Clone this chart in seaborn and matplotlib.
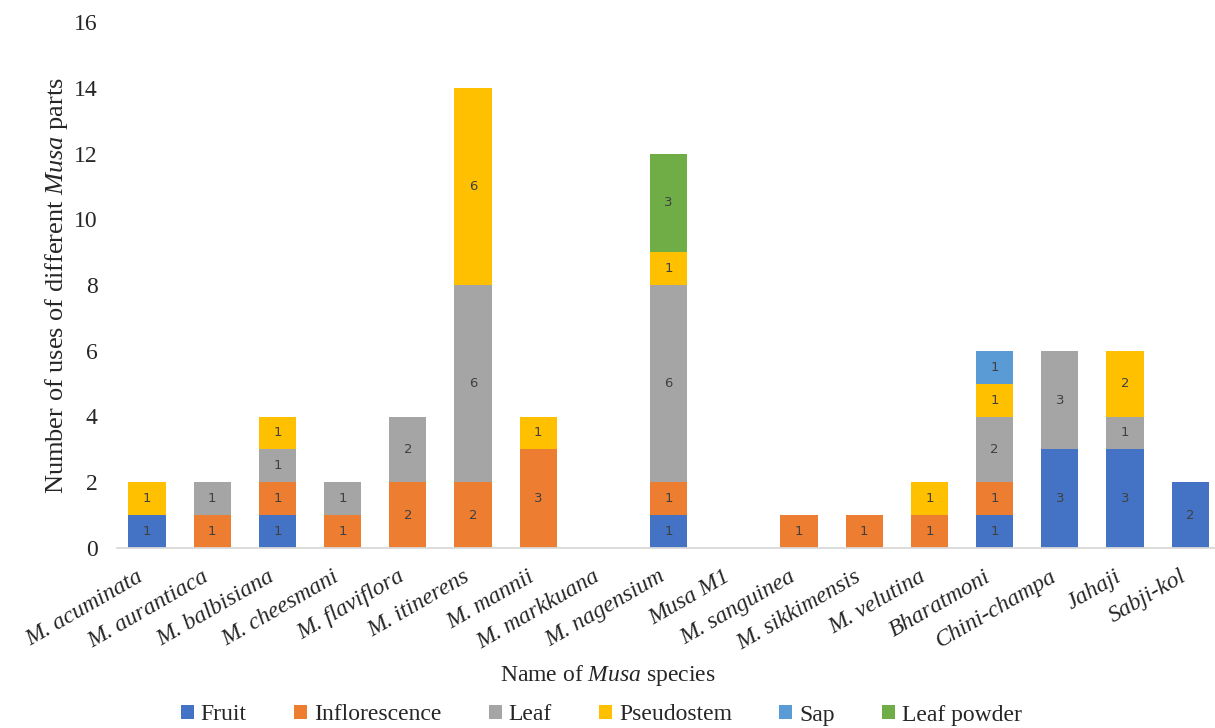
import matplotlib
matplotlib.use("Agg")
import matplotlib.pyplot as plt
import numpy as np
import pandas as pd
import seaborn as sns
from matplotlib.patches import Patch

# Species on the x axis
species = [
    "M. acuminata", "M. aurantiaca", "M. balbisiana", "M. cheesmani",
    "M. flaviflora", "M. itinerens", "M. mannii", "M. markkuana",
    "M. nagensium", "Musa M1", "M. sanguinea", "M. sikkimensis",
    "M. velutina", "Bharatmoni", "Chini-champa", "Jahaji", "Sabji-kol",
]

# Plant parts (stacked from bottom to top)
parts = ["Fruit", "Inflorescence", "Leaf", "Pseudostem", "Sap", "Leaf powder"]

# Number of uses of each part, per species
fruit         = [1, 0, 1, 0, 0, 0, 0, 0, 1, 0, 0, 0, 0, 1, 3, 3, 2]
inflorescence = [0, 1, 1, 1, 2, 2, 3, 0, 1, 0, 1, 1, 1, 1, 0, 0, 0]
leaf          = [0, 1, 1, 1, 2, 6, 0, 0, 6, 0, 0, 0, 0, 2, 3, 1, 0]
pseudostem    = [1, 0, 1, 0, 0, 6, 1, 0, 1, 0, 0, 0, 1, 1, 0, 2, 0]
sap           = [0, 0, 0, 0, 0, 0, 0, 0, 0, 0, 0, 0, 0, 1, 0, 0, 0]
leaf_powder   = [0, 0, 0, 0, 0, 0, 0, 0, 3, 0, 0, 0, 0, 0, 0, 0, 0]

part_colors = ["#4472C4", "#ED7D31", "#A5A5A5", "#FFC000", "#5B9BD5", "#70AD47"]

series = [fruit, inflorescence, leaf, pseudostem, sap, leaf_powder]
records = []
for part, values in zip(parts, series):
    for sp, v in zip(species, values):
        records.append({"species": sp, "part": part, "uses": v})
df = pd.DataFrame(records)
df["species"] = pd.Categorical(df["species"], categories=species, ordered=True)

sns.set_theme(style="white")
plt.rcParams["font.family"] = ["Liberation Serif", "DejaVu Serif"]
plt.rcParams["mathtext.fontset"] = "custom"
plt.rcParams["mathtext.rm"] = "Liberation Serif"
plt.rcParams["mathtext.it"] = "Liberation Serif:italic"

fig = plt.figure(figsize=(12.15, 7.28), dpi=100)
ax = fig.add_axes([117 / 1215, 1 - 548 / 728, 1 - 117 / 1215, (548 - 22) / 728])

# histplot stacks the last hue level at the bottom, so feed the parts reversed
palette = dict(zip(parts, part_colors))
sns.histplot(
    data=df, x="species", hue="part", weights="uses",
    multiple="stack", discrete=True, shrink=0.57,
    hue_order=parts[::-1], palette=palette, alpha=1, linewidth=0,
    legend=False, ax=ax,
)

# Value labels centred in each segment
for cont in ax.containers:
    ax.bar_label(cont, label_type="center",
                 fmt=lambda v: f"{v:g}" if v > 0 else "",
                 color="#404040", fontsize=9.5, family="DejaVu Sans")

ax.set_ylim(0, 16)
ax.set_yticks(np.arange(0, 17, 2))
ax.set_xlim(-0.46, 16.38)
ax.set_xticks(range(len(species)))
ax.set_xticklabels(species, rotation=30, ha="right", va="top",
                   fontstyle="italic", fontsize=17)
ax.tick_params(axis="x", length=0, pad=13)
ax.tick_params(axis="y", length=0, pad=14, labelsize=17)

for s in ["left", "top", "right"]:
    ax.spines[s].set_visible(False)
ax.spines["bottom"].set_color("#D9D9D9")
ax.spines["bottom"].set_linewidth(1.3)
ax.grid(False)

ax.set_xlabel("")
ax.set_ylabel(r"Number of uses of different $\it{Musa}$ parts", fontsize=19)
ax.yaxis.set_label_coords(-0.043, 0.5)

fig.text(0.5, 1 - 676 / 728, r"Name of $\it{Musa}$ species",
         ha="center", va="center", fontsize=17)

handles = [Patch(facecolor=c, edgecolor="none") for c in part_colors]
fig.legend(handles, parts, loc="center", bbox_to_anchor=(0.495, 1 - 715 / 728),
           ncol=6, frameon=False, fontsize=17, handlelength=0.55,
           handleheight=0.55, handletextpad=0.3, columnspacing=2.0)

fig.savefig("out.png", dpi=100)
